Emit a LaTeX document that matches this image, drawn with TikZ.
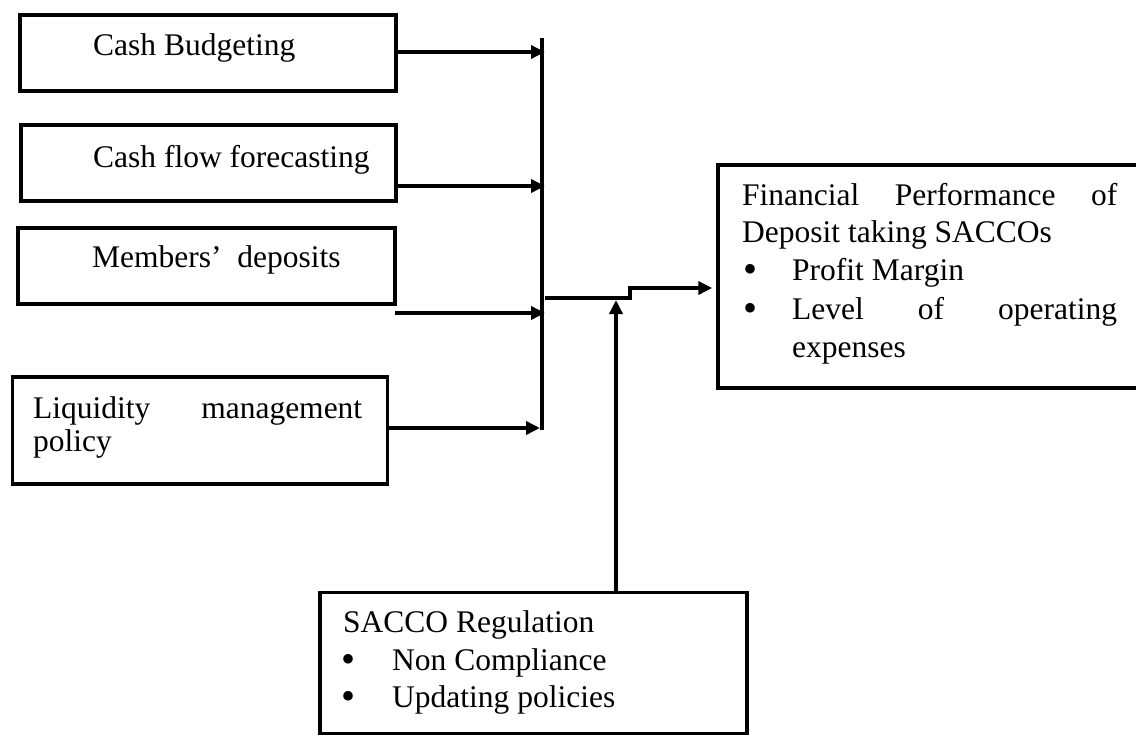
\documentclass[tikz,border=0pt]{standalone}
\usepackage{fontspec}
\setmainfont{Liberation Serif}
\usetikzlibrary{arrows.meta}
\begin{document}
\begin{tikzpicture}[x=1pt,y=-1pt,
  box/.style={draw=black,line width=3.5pt,rectangle,inner sep=0pt},
  conn/.style={line width=4pt,-{Triangle[length=14pt,width=13pt]}},
  plain/.style={line width=4pt},
  txt/.style={anchor=base west,inner sep=0pt,font=\fontsize{31.5}{38}\selectfont},
  bul/.style={anchor=base west,inner sep=0pt,font=\fontsize{40}{38}\selectfont}]
\useasboundingbox (0,0) rectangle (1136,736);
\fill[white] (0,0) rectangle (1136,736);
% boxes
\node[box,minimum width=376pt,minimum height=76pt] (b1) at (208,53) {};
\node[box,minimum width=375pt,minimum height=76pt] (b2) at (208.5,163) {};
\node[box,minimum width=377pt,minimum height=76pt] (b3) at (206.5,266) {};
\node[box,minimum width=375pt,minimum height=107pt] (b4) at (200,430.5) {};
\node[box,minimum width=430pt,minimum height=223pt] (fin) at (933,276.5) {};
\node[box,minimum width=427pt,minimum height=141pt] (reg) at (533.5,663) {};
% texts
\node[txt] (t1) at (93,55) {Cash Budgeting};
\node[txt] (t2) at (93,167) {Cash flow forecasting};
\node[txt] (t3) at (92,267) {Members’\ \ deposits};
\node[txt] (t4a) at (33,418) {\hbox to 329pt{Liquidity\hfill management}};
\node[txt] (t4b) at (33,451) {policy};
\node[txt] (f1) at (742,205) {\hbox to 375pt{Financial\hfill Performance\hfill of}};
\node[txt] (f2) at (742,242) {Deposit taking SACCOs};
\node[bul] (fb1) at (743,282) {\textbullet};
\node[txt] (f3) at (792,280) {Profit Margin};
\node[bul] (fb2) at (743,321) {\textbullet};
\node[txt] (f4) at (792,319) {\hbox to 325pt{Level\hfill of\hfill operating}};
\node[txt] (f5) at (792,357) {expenses};
\node[txt] (r1) at (343,632) {SACCO Regulation};
\node[bul] (rb1) at (341,672) {\textbullet};
\node[txt] (r2) at (392,670) {Non Compliance};
\node[bul] (rb2) at (341,709) {\textbullet};
\node[txt] (r3) at (392,707) {Updating policies};
% bus
\coordinate (bustop) at (542,38);
\coordinate (busbot) at (542,430);
\coordinate (a1) at (545,52);
\coordinate (a2) at (545,186);
\coordinate (m3s) at (395,313);
\coordinate (a3) at (545,313);
\coordinate (a4) at (540,428);
\draw[plain] (bustop) -- (busbot);
\draw[conn] (b1.east |- a1) -- (a1);
\draw[conn] (b2.east |- a2) -- (a2);
\draw[conn] (m3s) -- (a3);
\draw[conn] (b4.east |- a4) -- (a4);
% output
\coordinate (o1) at (545,298);
\coordinate (o2) at (630,298);
\coordinate (o3) at (630,288);
\draw[conn] (o1) -- (o2) -- (o3) -- ([xshift=-4pt]fin.west |- o3);
% regulation arrow
\coordinate (rt) at (616,300);
\draw[conn] (reg.north -| rt) -- (rt);
\end{tikzpicture}
\end{document}
